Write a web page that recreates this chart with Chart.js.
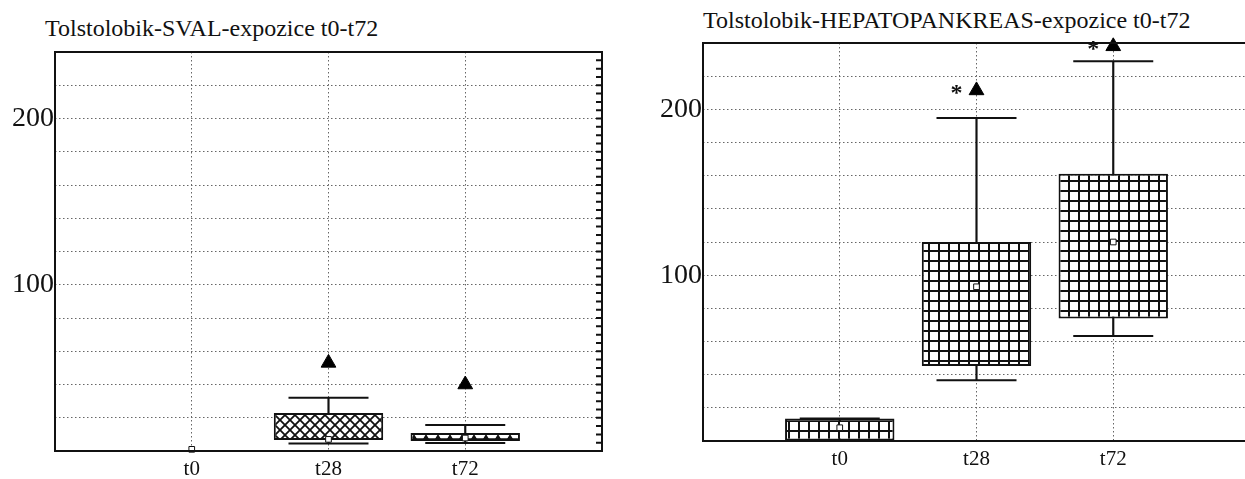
<!DOCTYPE html>
<html>
<head>
<meta charset="utf-8">
<script src="https://cdn.jsdelivr.net/npm/chart.js@4.4.1/dist/chart.umd.min.js"></script>
<style>
  body { margin: 0; width: 1245px; height: 479px; overflow: hidden; background: #fff; position: relative; }
  .title { position: absolute; font-family: "Liberation Serif", serif; font-size: 24px; color: #111; white-space: nowrap; }
  .box { position: absolute; top: 0; width: 620px; height: 479px; }
</style>
</head>
<body>
<div class="title" style="left:45px; top:15px;">Tolstolobik-SVAL-expozice t0-t72</div>
<div class="title" style="left:703px; top:7px;">Tolstolobik-HEPATOPANKREAS-expozice t0-t72</div>
<div class="box" style="left:0"><canvas id="sval" width="620" height="479"></canvas></div>
<div class="box" style="left:648px"><canvas id="hep" width="620" height="479"></canvas></div>

<script>
// Categories and tick labels
var categories = ['t0', 't28', 't72'];
var labeledTicks = [100, 200];

// SVAL (muscle) box plot values
var svalBoxLow = [0, 6.6, 6];
var svalBoxHigh = [0, 22.9, 10.8];
var svalWhiskerLow = [0, 4.5, 4.8];
var svalWhiskerHigh = [0, 32, 15.7];
var svalMean = [1, 7, 7.8];
var svalOutlier = [null, 53, 40];
var svalSignificant = [false, false, false];

// HEPATOPANKREAS box plot values
var hepBoxLow = [0, 45.2, 73.9];
var hepBoxHigh = [13.5, 120, 161.2];
var hepWhiskerLow = [0, 36.7, 63.3];
var hepWhiskerHigh = [13.5, 194.8, 229];
var hepMean = [8, 93, 120];
var hepOutlier = [null, 211.4, 238];
var hepSignificant = [false, true, true];

// Pattern fills
function makePattern(w, h, draw) {
    var c = document.createElement('canvas');
    c.width = w; c.height = h;
    var g = c.getContext('2d');
    g.fillStyle = '#fff';
    g.fillRect(0, 0, w, h);
    g.strokeStyle = '#111';
    g.fillStyle = '#111';
    draw(g, w, h);
    return document.createElement('canvas').getContext('2d').createPattern(c, 'repeat');
}
var gridFill = makePattern(10, 10, function (g) {
    g.lineWidth = 2;
    g.beginPath();
    g.moveTo(1, 0); g.lineTo(1, 10);
    g.moveTo(0, 1); g.lineTo(10, 1);
    g.stroke();
});
var crossFill = makePattern(10, 10, function (g) {
    g.lineWidth = 1.8;
    g.beginPath();
    g.moveTo(0, 0); g.lineTo(10, 10);
    g.moveTo(10, 0); g.lineTo(0, 10);
    g.stroke();
});
var triangleFill = makePattern(12, 8, function (g) {
    g.lineWidth = 1.5;
    g.beginPath();
    g.moveTo(0, 1); g.lineTo(12, 1);
    g.moveTo(0, 7); g.lineTo(12, 7);
    g.stroke();
    g.beginPath();
    g.moveTo(3, 7); g.lineTo(6, 2); g.lineTo(9, 7);
    g.closePath();
    g.fill();
});

function pad(arr) {
    return [null].concat(arr, [null]);
}
function ranges(lo, hi) {
    return pad(lo.map(function (v, i) { return hi[i] > v ? [v, hi[i]] : null; }));
}

// Frame, inward right ticks and asterisks
var framePlugin = {
    id: 'frame',
    afterDraw: function (chart, args, opts) {
        var ctx = chart.ctx, a = chart.chartArea;
        ctx.save();
        ctx.strokeStyle = '#111';
        ctx.lineWidth = 2;
        ctx.strokeRect(a.left, a.top, a.right - a.left, a.bottom - a.top);
        if (opts.rightTicks) {
            var y = chart.scales.y;
            ctx.lineWidth = 2;
            ctx.beginPath();
            for (var v = 0; v <= 240; v += 5) {
                var py = y.getPixelForValue(v);
                ctx.moveTo(a.right, py);
                ctx.lineTo(a.right - 6, py);
            }
            ctx.stroke();
        }
        var meta = chart.getDatasetMeta(opts.outlierIndex);
        ctx.fillStyle = '#111';
        ctx.font = 'bold 24px "Liberation Serif"';
        ctx.textAlign = 'center';
        ctx.textBaseline = 'middle';
        opts.significant.forEach(function (s, i) {
            var p = meta.data[i + 1];
            if (s && p) ctx.fillText('*', p.x - 20, p.y + 3);
        });
        ctx.restore();
    }
};

function makeChart(id, d) {
    var axisLabels = pad(categories).map(function (c) { return c || ''; });
    return new Chart(document.getElementById(id), {
        type: 'bar',
        data: {
            labels: axisLabels,
            datasets: [{
                label: 'whisker',
                data: ranges(d.wLow, d.wHigh),
                backgroundColor: '#111',
                barThickness: 1.5,
                grouped: false,
                order: 5
            }, {
                label: 'box',
                data: ranges(d.bLow, d.bHigh),
                backgroundColor: d.fills,
                borderColor: '#111',
                borderWidth: 2,
                borderSkipped: false,
                barPercentage: 1,
                categoryPercentage: 0.8,
                grouped: false,
                order: 4
            }, {
                type: 'line',
                label: 'upper cap',
                data: pad(d.wHigh.map(function (v, i) { return d.wHigh[i] > d.wLow[i] ? v : null; })),
                showLine: false,
                pointStyle: 'line',
                pointRadius: 40,
                pointBorderWidth: 2,
                pointBorderColor: '#111',
                clip: false,
                order: 3
            }, {
                type: 'line',
                label: 'lower cap',
                data: pad(d.wLow.map(function (v, i) { return d.wHigh[i] > d.wLow[i] ? v : null; })),
                showLine: false,
                pointStyle: 'line',
                pointRadius: 40,
                pointBorderWidth: 2,
                pointBorderColor: '#111',
                clip: false,
                order: 3
            }, {
                type: 'line',
                label: 'mean',
                data: pad(d.mean),
                showLine: false,
                pointStyle: 'rect',
                pointRadius: 4,
                pointBackgroundColor: '#fff',
                pointBorderColor: '#111',
                pointBorderWidth: 1,
                clip: false,
                order: 1
            }, {
                type: 'line',
                label: 'outlier',
                data: pad(d.outlier),
                showLine: false,
                pointStyle: 'triangle',
                pointRadius: 8.5,
                pointBackgroundColor: '#000',
                pointBorderColor: '#000',
                pointBorderWidth: 1,
                clip: false,
                order: 1
            }]
        },
        options: {
            responsive: false,
            animation: false,
            events: [],
            layout: { autoPadding: false, padding: { top: d.top, right: 18, bottom: 0, left: 0 } },
            plugins: {
                legend: { display: false },
                tooltip: { enabled: false },
                frame: { rightTicks: d.rightTicks, significant: d.significant, outlierIndex: 5 }
            },
            scales: {
                x: {
                    type: 'category',
                    offset: false,
                    grid: {
                        offset: false,
                        drawTicks: false,
                        color: function (c) { return (c.index === 0 || c.index === 4) ? 'rgba(0,0,0,0)' : '#666'; }
                    },
                    border: { display: false, dash: [1.5, 2.5] },
                    ticks: { autoSkip: false, maxRotation: 0, padding: 6, color: '#111',
                             font: { family: 'Liberation Serif', size: 21 } },
                    afterFit: function (s) { s.height = 479 - d.bottom; }
                },
                y: {
                    min: 0,
                    max: 240,
                    grid: { color: '#666', drawTicks: false },
                    border: { display: false, dash: [1.5, 2.5] },
                    ticks: {
                        stepSize: 20,
                        autoSkip: false,
                        padding: 1,
                        color: '#111',
                        font: { family: 'Liberation Serif', size: 28 },
                        callback: function (v) { return labeledTicks.indexOf(v) >= 0 ? v : ''; }
                    },
                    afterFit: function (s) { s.width = 55; }
                }
            }
        },
        plugins: [framePlugin]
    });
}

makeChart('sval', {
    bLow: svalBoxLow, bHigh: svalBoxHigh, wLow: svalWhiskerLow, wHigh: svalWhiskerHigh,
    mean: svalMean, outlier: svalOutlier, significant: svalSignificant,
    fills: [null, gridFill, crossFill, triangleFill, null],
    top: 52, bottom: 451, rightTicks: true
});
makeChart('hep', {
    bLow: hepBoxLow, bHigh: hepBoxHigh, wLow: hepWhiskerLow, wHigh: hepWhiskerHigh,
    mean: hepMean, outlier: hepOutlier, significant: hepSignificant,
    fills: [null, gridFill, gridFill, gridFill, null],
    top: 43, bottom: 441, rightTicks: false
});
</script>
</body>
</html>
